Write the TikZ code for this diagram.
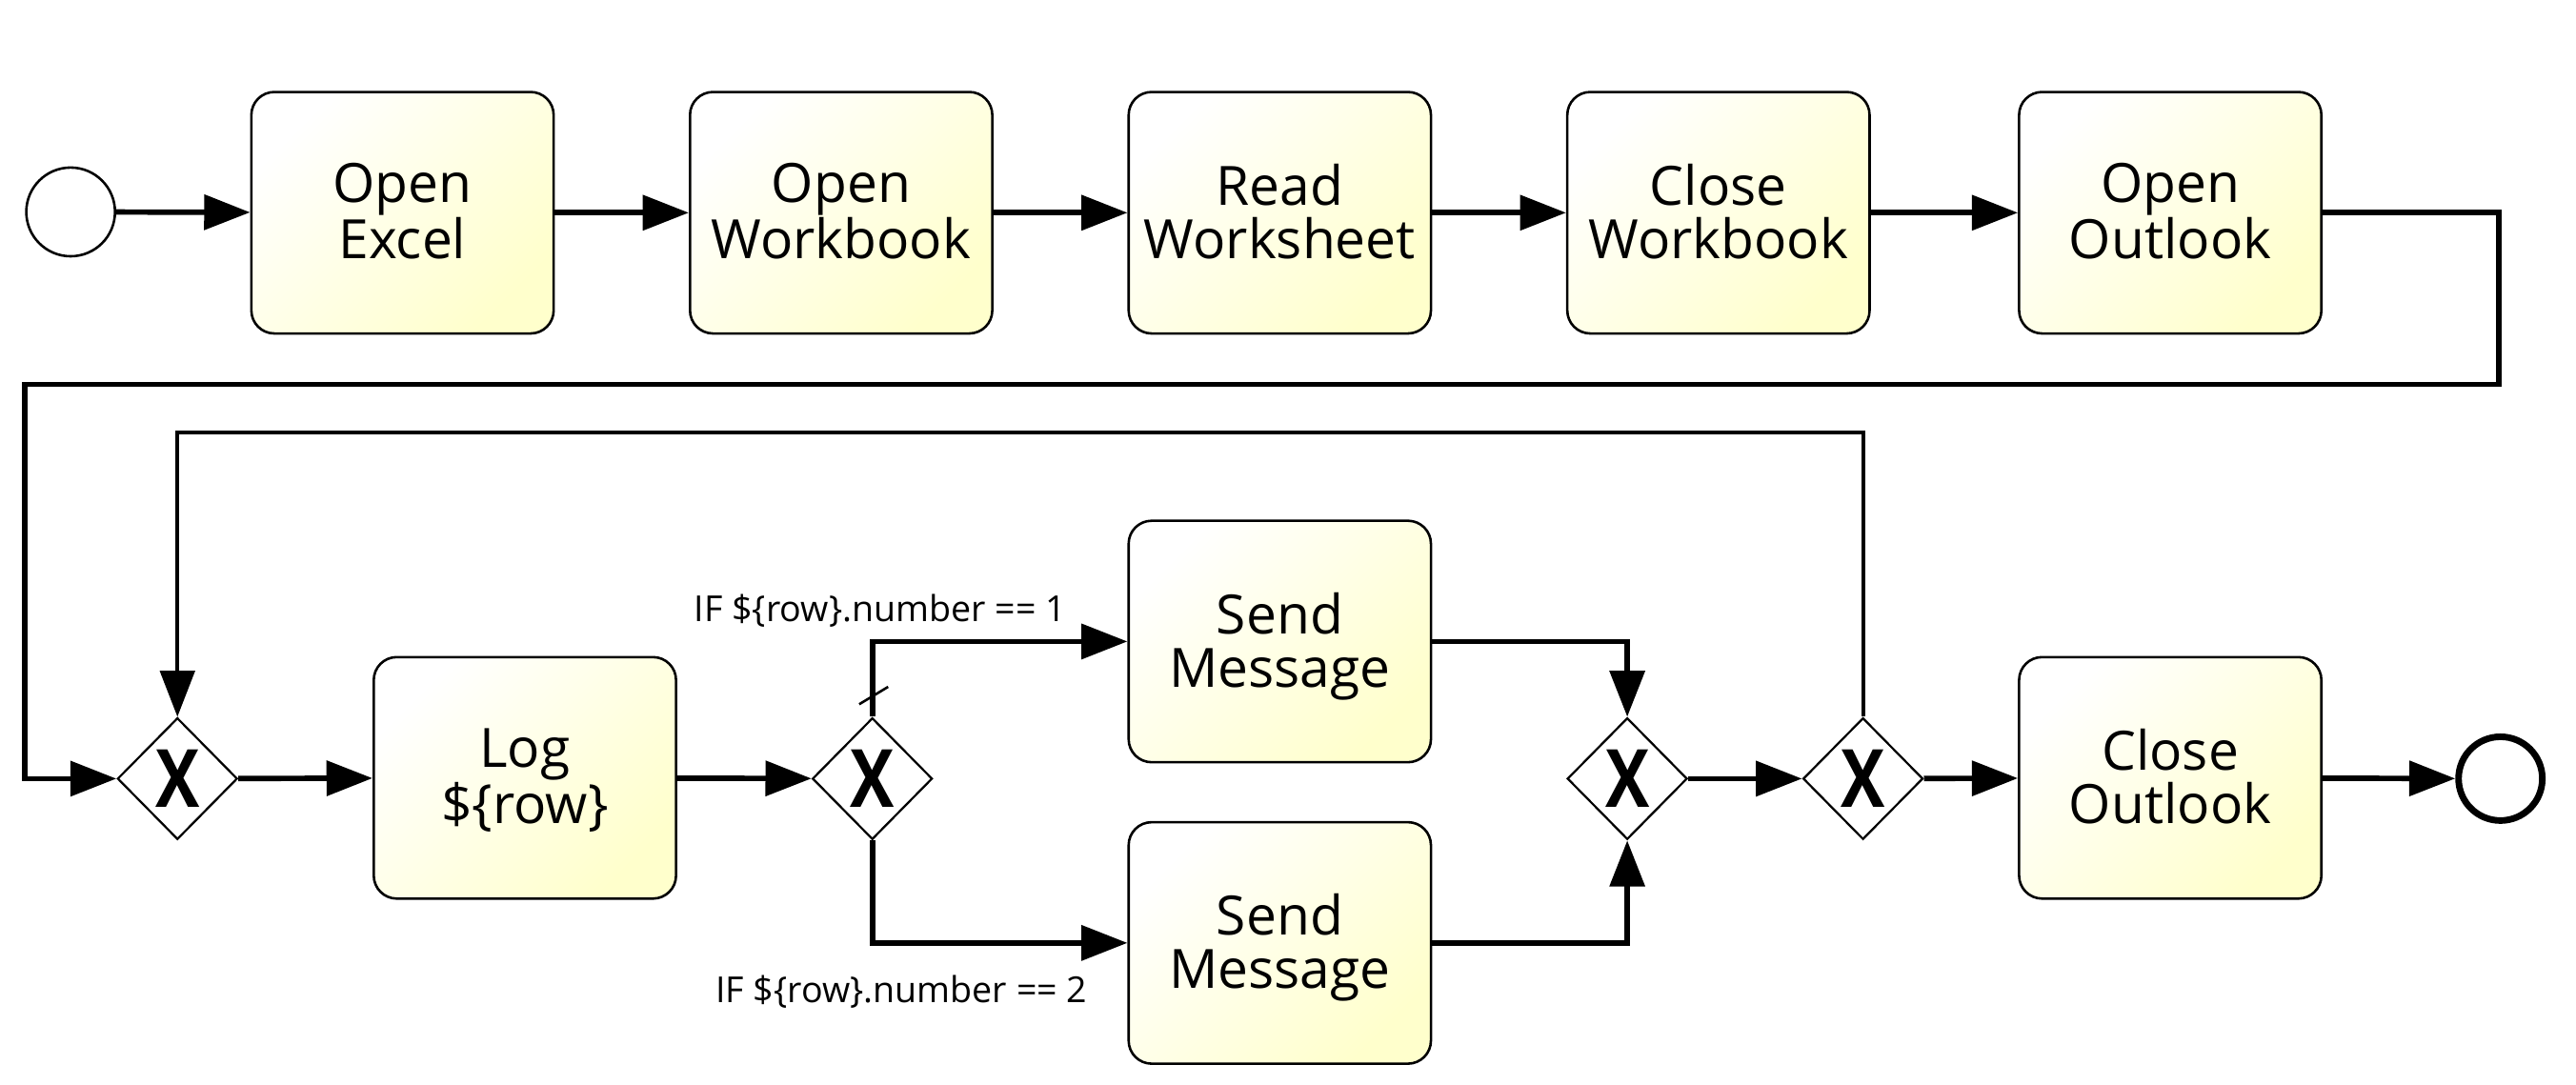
\documentclass[tikz,border=0pt]{standalone}
\usepackage{fontspec}
\usepackage{graphicx}
\setmainfont{Open Sans}
\usetikzlibrary{arrows.meta,shapes.geometric}
\definecolor{ylw}{RGB}{255,255,204}
\begin{document}
\begin{tikzpicture}[x=1pt,y=-1pt,
  task/.style={draw, line width=1.5pt, rounded corners=14pt, minimum width=184pt, minimum height=147pt, inner sep=0pt, align=center, text depth=2pt, font=\fontsize{33}{32.5}\selectfont, top color=white, bottom color=ylw, shading angle=45},
  gw/.style={draw, diamond, line width=1.3pt, minimum width=73pt, minimum height=74pt, inner sep=0pt, fill=white},
  gx/.style={font=\fontsize{49}{49}\selectfont\bfseries, inner sep=0pt},
  flow/.style={line width=3.3pt, -{Triangle[length=28pt,width=21pt]}},
  loopflow/.style={flow, line width=2.4pt},
  lbl/.style={font=\fontsize{21.8}{21.8}\selectfont, inner sep=0pt},
  ev/.style={circle, draw, inner sep=0pt, fill=white},
]
\useasboundingbox (0,0) rectangle (1568,660);
% top row
\node[ev, line width=1.5pt, minimum size=54pt] (start) at (43,129) {};
\node[task] (t1) at (245,129.5) {Open\\Excel};
\node[task] (t2) at (512,129.5) {Open\\Workbook};
\node[task] (t3) at (779,129.5) {Read\\Worksheet};
\node[task] (t4) at (1046,129.5) {Close\\Workbook};
\node[task] (t5) at (1321,129.5) {Open\\Outlook};
% bottom row
\node[gw] (g1) at (108,474) {};
\node[gx] (g1x) at (g1) {\scalebox{0.82}[1]{X}};
\node[task] (log) at (319.5,473.5) {Log\\\$\{row\}};
\node[gw] (g2) at (531,474) {};
\node[gx] (g2x) at (g2) {\scalebox{0.82}[1]{X}};
\node[task] (s1) at (779,390.5) {Send\\Message};
\node[task] (s2) at (779,574) {Send\\Message};
\node[gw] (g3) at (990.5,474) {};
\node[gx] (g3x) at (g3) {\scalebox{0.82}[1]{X}};
\node[gw] (g4) at (1134,474) {};
\node[gx] (g4x) at (g4) {\scalebox{0.82}[1]{X}};
\node[task] (t6) at (1321,473.5) {Close\\Outlook};
\node[ev, line width=4pt, minimum size=51pt] (end) at (1522,474) {};
% labels
\node[lbl, anchor=base east] (c1) at (649,378.5) {IF \$\{row\}.number == 1};
\node[lbl, anchor=base east] (c2) at (662,610.5) {IF \$\{row\}.number == 2};
% routing coordinates
\coordinate (r1) at (1521,234);
\coordinate (l1) at (15,234);
\coordinate (slashA) at (523,428.7);
\coordinate (slashB) at (540.6,418.1);
% flows
\draw[flow] (start) -- (t1);
\draw[flow] (t1) -- (t2);
\draw[flow] (t2) -- (t3);
\draw[flow] (t3) -- (t4);
\draw[flow] (t4) -- (t5);
\draw[flow] (t5.east) -| (r1) -- (l1) |- (g1.west);
\draw[flow] (g1) -- (log);
\draw[flow] (log) -- (g2);
\draw[flow] (g2.north) |- (s1.west);
\draw[line width=1.5pt] (slashA) -- (slashB);
\draw[flow] (g2.south) |- (s2.west);
\draw[flow] (s1.east) -| (g3.north);
\draw[flow] (s2.east) -| (g3.south);
\draw[flow] (g3) -- (g4);
\draw[loopflow] (g4.north) -- ++(0,-173) -| (g1.north);
\draw[flow] (g4) -- (t6);
\draw[flow] (t6) -- (end);
\end{tikzpicture}
\end{document}
